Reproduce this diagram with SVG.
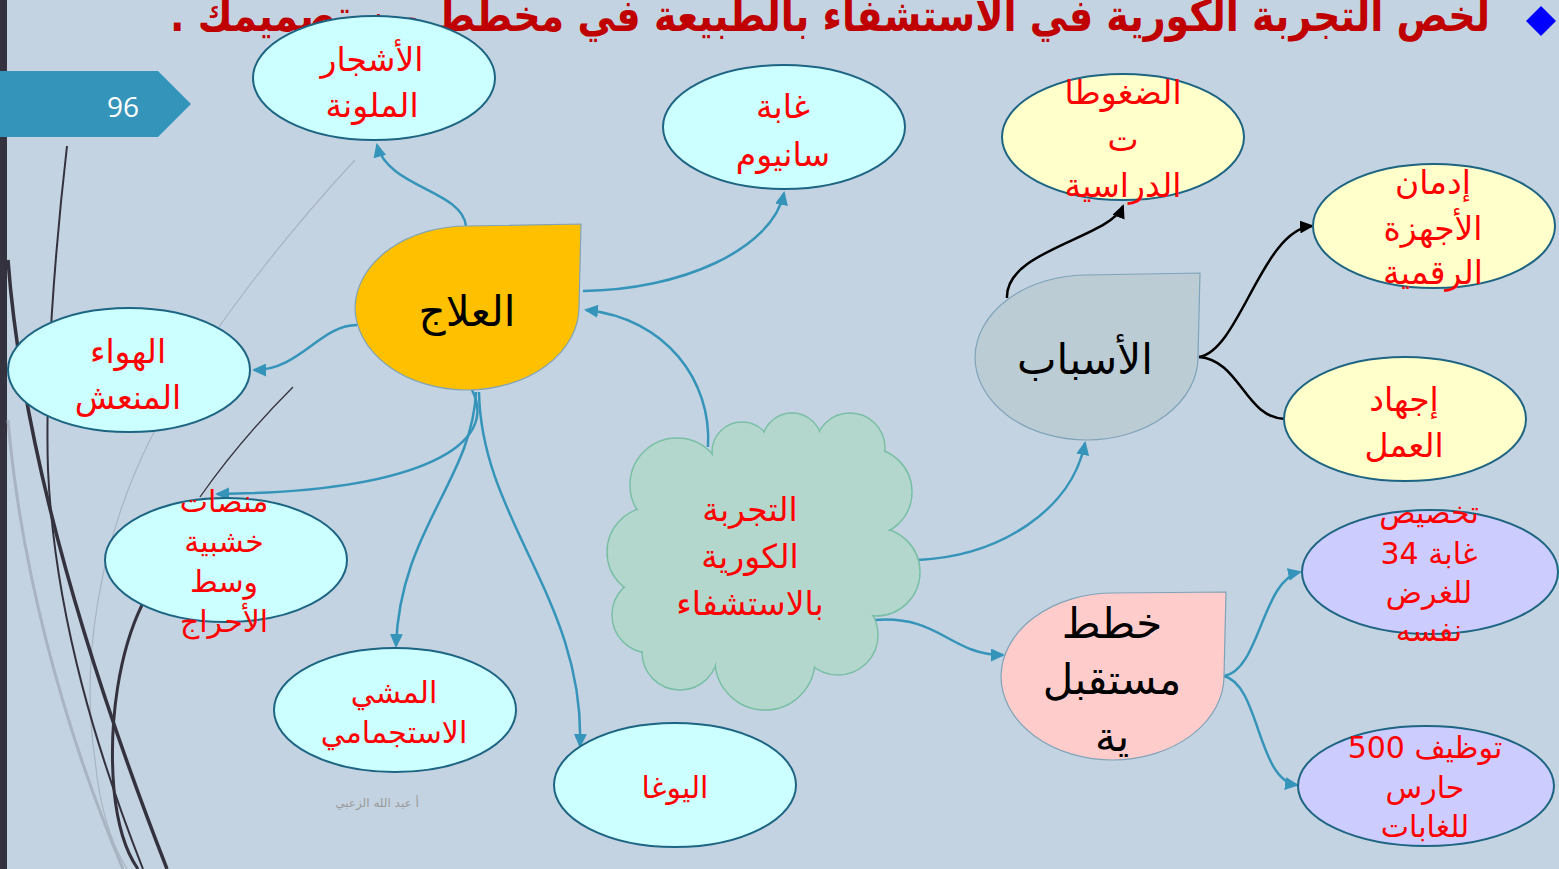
<svg xmlns="http://www.w3.org/2000/svg" width="1559" height="869" viewBox="0 0 1559 869">
<style>
.ec{fill:#CCFFFF;stroke:#1D6583;stroke-width:2}
.ey{fill:#FFFFCC;stroke:#1D6583;stroke-width:2}
.ev{fill:#CCCCFF;stroke:#1D6583;stroke-width:2}
.t{fill:#FF0000;font-family:"DejaVu Sans",sans-serif;font-size:33px;text-anchor:middle;direction:rtl}
.ts{font-size:30px}
.tb{fill:#000000;font-family:"DejaVu Sans",sans-serif;font-size:42px;text-anchor:middle;direction:rtl}
.c{fill:none;stroke:#3494BA;stroke-width:2.5}
.k{fill:none;stroke:#000000;stroke-width:2.5}
.dl{fill:none;stroke:#35323F}
.gl{fill:none;stroke:#A9B4C2}
.leaf{stroke:#7FA3B9;stroke-width:1.2}
</style>
<defs>
<marker id="ab" markerUnits="userSpaceOnUse" markerWidth="15" markerHeight="13" refX="12" refY="6.5" orient="auto"><path d="M0,0 L14,6.5 L0,13 z" fill="#3494BA"/></marker>
<marker id="ak" markerUnits="userSpaceOnUse" markerWidth="15" markerHeight="13" refX="12" refY="6.5" orient="auto"><path d="M0,0 L14,6.5 L0,13 z" fill="#000000"/></marker>
</defs>
<rect x="0" y="0" width="1559" height="869" fill="#C4D3E1"/>
<rect x="0" y="0" width="7" height="869" fill="#35323F"/>
<g id="decor">
<path class="gl" stroke-width="1.2" d="M355,160 C290,230 200,340 150,440 C100,540 80,660 95,760 C100,810 112,845 127,869"/>
<path class="gl" stroke-width="3" d="M8,420 C20,560 60,720 123,869"/>
<path class="dl" stroke-width="2" d="M67,146 C55,250 45,380 48,470 C55,620 100,760 143,869"/>
<path class="dl" stroke-width="3.5" d="M8,260 C20,420 70,620 167,869"/>
<path class="dl" stroke-width="3" d="M142,605 C120,650 108,720 114,790 C118,830 128,855 138,869"/>
<path class="dl" stroke-width="1.3" d="M293,387 Q240,440 200,497"/>
</g>
<g id="slide-number">
<polygon points="0,71 158,71 191,104 158,137 0,137" fill="#3494BA"/>
<text x="123" y="117" font-family="'Open Sans',sans-serif" font-size="28" fill="#FFFFFF" text-anchor="middle">96</text>
</g>
<g id="title">
<text x="830" y="31" font-family="'DejaVu Sans',sans-serif" font-size="44" font-weight="bold" fill="#C00000" text-anchor="middle" direction="rtl" textLength="1320" lengthAdjust="spacingAndGlyphs">لخص التجربة الكورية في الاستشفاء بالطبيعة في مخطط من تصميمك .</text>
<polygon points="1541,6 1556,21 1541,36 1526,21" fill="#0000FF"/>
</g>
<text x="377" y="807" font-family="'DejaVu Sans',sans-serif" font-size="12" fill="#9A9A9A" text-anchor="middle" direction="rtl">أ عبد الله الزعبي</text>
<g id="connectors">
<path class="c" d="M708,447 C712,380 665,318 586,310" marker-end="url(#ab)"/>
<path class="c" d="M918,560 C1000,556 1072,510 1085,443" marker-end="url(#ab)"/>
<path class="c" d="M875,620 C940,615 950,655 1003,655" marker-end="url(#ab)"/>
<path class="c" d="M466,226 C462,190 388,188 377,145" marker-end="url(#ab)"/>
<path class="c" d="M583,291 C680,290 772,250 784,193" marker-end="url(#ab)"/>
<path class="c" d="M357,325 C320,325 300,370 254,370" marker-end="url(#ab)"/>
<path class="c" d="M472,390 C500,445 420,492 217,494" marker-end="url(#ab)"/>
<path class="c" d="M476,392 C472,480 400,530 396,646" marker-end="url(#ab)"/>
<path class="c" d="M479,392 C481,520 585,600 580,746" marker-end="url(#ab)"/>
<path class="k" d="M1007,298 C1005,250 1110,238 1123,206" marker-end="url(#ak)"/>
<path class="k" d="M1199,357 C1240,350 1262,230 1312,226" marker-end="url(#ak)"/>
<path class="k" d="M1199,357 C1240,360 1245,418 1285,419"/>
<path class="c" d="M1224,676 C1260,670 1262,580 1300,572" marker-end="url(#ab)"/>
<path class="c" d="M1224,676 C1260,685 1257,780 1297,785" marker-end="url(#ab)"/>
</g>
<g id="cloud">
<g fill="#B3D7CC" stroke="#79BFA5" stroke-width="1.5">
<circle cx="677" cy="485" r="47"/>
<circle cx="742" cy="452" r="30"/>
<circle cx="792" cy="443" r="30"/>
<circle cx="850" cy="448" r="35"/>
<circle cx="868" cy="492" r="44"/>
<circle cx="876" cy="572" r="44"/>
<circle cx="838" cy="635" r="40"/>
<circle cx="765" cy="660" r="50"/>
<circle cx="680" cy="652" r="38"/>
<circle cx="650" cy="615" r="38"/>
<circle cx="652" cy="552" r="45"/>
</g>
<g fill="#B3D7CC">
<circle cx="677" cy="485" r="46"/>
<circle cx="742" cy="452" r="29"/>
<circle cx="792" cy="443" r="29"/>
<circle cx="850" cy="448" r="34"/>
<circle cx="868" cy="492" r="43"/>
<circle cx="876" cy="572" r="43"/>
<circle cx="838" cy="635" r="39"/>
<circle cx="765" cy="660" r="49"/>
<circle cx="680" cy="652" r="37"/>
<circle cx="650" cy="615" r="37"/>
<circle cx="652" cy="552" r="44"/>
<circle cx="800" cy="488" r="40"/>
<circle cx="840" cy="520" r="40"/>
<circle cx="700" cy="600" r="40"/>
<circle cx="820" cy="600" r="40"/>
<circle cx="740" cy="630" r="30"/>
<ellipse cx="762" cy="555" rx="120" ry="95"/>
</g>
<text class="t" x="750" y="521">التجربة</text>
<text class="t" x="750" y="568">الكورية</text>
<text class="t" x="750" y="615">بالاستشفاء</text>
</g>
<g id="treatment">
<path class="leaf" fill="#FFC000" d="M467,226 L581,224 L579,307 A112,83 0 0 1 467,390 A112,83 0 0 1 355,307 A112,83 0 0 1 467,226 Z"/>
<text class="tb" x="467" y="326">العلاج</text>
</g>
<g id="causes">
<path class="leaf" fill="#BBCCD5" d="M1087,275 L1200,273 L1198,357 A112,83 0 0 1 1087,440 A112,83 0 0 1 975,357 A112,83 0 0 1 1087,275 Z"/>
<text class="tb" x="1085" y="374">الأسباب</text>
</g>
<g id="future">
<path class="leaf" fill="#FFCCCC" d="M1113,593 L1226,592 L1224,676 A112,84 0 0 1 1113,760 A112,84 0 0 1 1001,676 A112,84 0 0 1 1113,593 Z"/>
<text class="tb" x="1112" y="638">خطط</text>
<text class="tb" x="1112" y="694">مستقبل</text>
<text class="tb" x="1112" y="751">ية</text>
</g>
<g id="colored-trees">
<ellipse class="ec" cx="374" cy="78" rx="121" ry="62"/>
<text class="t" x="372" y="71">الأشجار</text>
<text class="t" x="372" y="117">الملونة</text>
</g>
<g id="sanium">
<ellipse class="ec" cx="784" cy="127" rx="121" ry="62"/>
<text class="t" x="783" y="118">غابة</text>
<text class="t" x="783" y="166">سانيوم</text>
</g>
<g id="air">
<ellipse class="ec" cx="129" cy="370" rx="121" ry="62"/>
<text class="t" x="128" y="363">الهواء</text>
<text class="t" x="128" y="409">المنعش</text>
</g>
<g id="platforms">
<ellipse class="ec" cx="226" cy="560" rx="121" ry="62"/>
<text class="t ts" x="224" y="512">منصات</text>
<text class="t ts" x="224" y="552">خشبية</text>
<text class="t ts" x="224" y="592">وسط</text>
<text class="t ts" x="224" y="632">الأحراج</text>
</g>
<g id="walking">
<ellipse class="ec" cx="395" cy="710" rx="121" ry="62"/>
<text class="t ts" x="394" y="703">المشي</text>
<text class="t ts" x="394" y="743">الاستجمامي</text>
</g>
<g id="yoga">
<ellipse class="ec" cx="675" cy="785" rx="121" ry="62"/>
<text class="t ts" x="675" y="798">اليوغا</text>
</g>
<g id="stress">
<ellipse class="ey" cx="1123" cy="137" rx="121" ry="63"/>
<text class="t" x="1123" y="104">الضغوطا</text>
<text class="t" x="1123" y="151">ت</text>
<text class="t" x="1123" y="197">الدراسية</text>
</g>
<g id="addiction">
<ellipse class="ey" cx="1434" cy="226" rx="121" ry="62"/>
<text class="t" x="1433" y="194">إدمان</text>
<text class="t" x="1433" y="240">الأجهزة</text>
<text class="t" x="1433" y="284">الرقمية</text>
</g>
<g id="fatigue">
<ellipse class="ey" cx="1405" cy="419" rx="121" ry="62"/>
<text class="t" x="1404" y="411">إجهاد</text>
<text class="t" x="1404" y="457">العمل</text>
</g>
<g id="forests34">
<ellipse class="ev" cx="1430" cy="572" rx="128" ry="62"/>
<text class="t ts" x="1429" y="523">تخصيص</text>
<text class="t ts" x="1429" y="564">غابة 34</text>
<text class="t ts" x="1429" y="603">للغرض</text>
<text class="t ts" x="1429" y="641">نفسه</text>
</g>
<g id="guards">
<ellipse class="ev" cx="1426" cy="786" rx="128" ry="60"/>
<text class="t ts" x="1425" y="758">توظيف 500</text>
<text class="t ts" x="1425" y="798">حارس</text>
<text class="t ts" x="1425" y="837">للغابات</text>
</g>
</svg>
